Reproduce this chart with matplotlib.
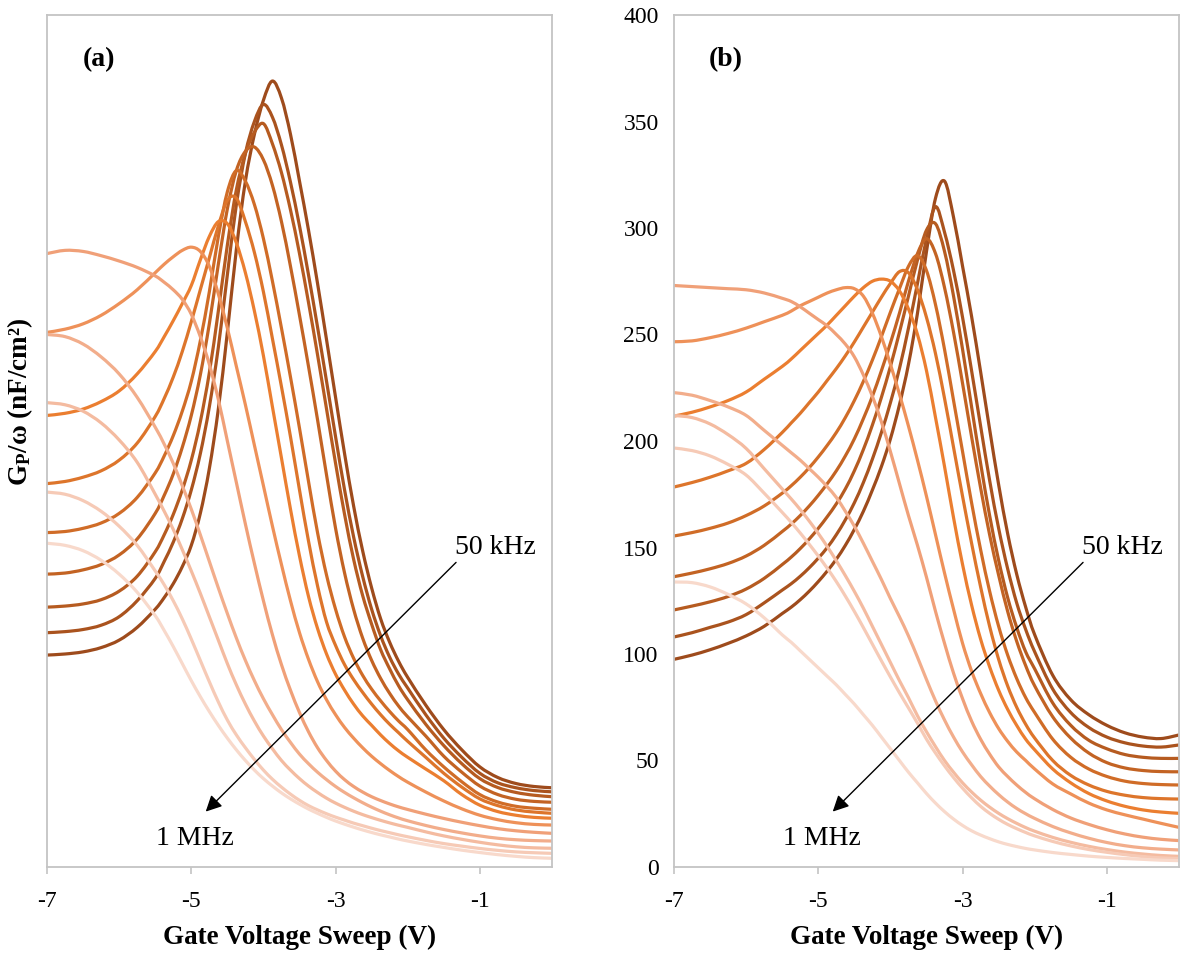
import matplotlib
matplotlib.use('Agg')
import matplotlib.pyplot as plt
from matplotlib.path import Path
from matplotlib.patches import PathPatch

# gate voltage grid (V), shared by every curve
vg = [-7, -6.75, -6.5, -6.25, -6, -5.75, -5.5, -5.375, -5.25, -5.125, -5, -4.875, -4.75,
      -4.625, -4.5, -4.375, -4.25, -4.125, -4, -3.875, -3.75, -3.625, -3.5, -3.375, -3.25,
      -3.125, -3, -2.875, -2.75, -2.625, -2.5, -2.375, -2.25, -2.125, -2, -1.75, -1.5,
      -1.25, -1, -0.75, -0.5, -0.25, 0]

# panel (a): Gp/w curves, 50 kHz (a1) ... 1 MHz (a13)
a1 = [99.5, 100, 101, 103, 106.5, 112.5, 121, 126.5, 133, 141, 151, 166, 187, 215, 251, 290, 322, 344, 360, 369, 361, 344, 322, 299, 274, 247.5, 220.5, 194, 169.5, 148.5, 131, 116.5, 105.5, 96.5, 89, 76, 64.5, 55, 47, 42, 39.2, 37.8, 37.2]
a2 = [110, 110.5, 111.5, 113.5, 117.5, 125, 135.5, 143.5, 152.5, 163.5, 177, 194, 216, 244, 278, 311, 335, 350, 358, 352, 339, 321.5, 301, 278, 253.5, 228, 202, 177, 155, 136.5, 121, 108.5, 98.5, 90.5, 84, 71.5, 60.5, 51.5, 44, 39.5, 37.2, 35.9, 35.3]
a3 = [122, 122.5, 123.5, 125.5, 129.5, 136.5, 148, 156, 165.5, 177, 191, 209, 232, 261, 292, 318, 335, 345, 349, 339.5, 326, 308.5, 288, 265, 240.5, 215, 189.5, 165.5, 144.5, 127.5, 114, 102, 93, 85, 78.5, 67, 57, 48.5, 41.5, 37.3, 35, 33.7, 33]
a4 = [137.5, 138, 139.5, 142, 146.5, 154, 166, 174.5, 184.5, 197, 212, 231, 255, 283, 309, 327, 336, 338, 332, 320, 303, 282, 259, 235, 210, 184, 159, 138, 121, 107.5, 97, 88.5, 81.5, 75.5, 70.5, 61.5, 52, 44.5, 38, 34, 31.8, 30.8, 30.4]
a5 = [157, 157.5, 159, 161.5, 166, 173.5, 185, 193, 202.5, 214, 228, 247, 270, 296, 317, 327, 322, 311, 295, 275, 253, 230, 206, 181, 157, 137, 121, 108, 98, 90, 83.5, 78, 73, 68.5, 64.5, 55, 47, 40, 34, 30.5, 28.5, 27.6, 27.1]
a6 = [180, 181, 183, 186, 191, 199, 211.5, 220, 230, 242, 256, 271, 286, 301, 313, 314, 303, 288.5, 270, 248, 225.5, 202, 177, 153, 132, 115, 104, 95, 88, 82, 76.5, 71.5, 67, 63, 59, 51.5, 44, 37.5, 32, 28.8, 26.8, 25.8, 25.2]
a7 = [212, 213, 215, 218.5, 223.5, 231.5, 242, 249, 256.5, 264.5, 273, 285, 296, 303, 302, 293, 279, 261, 240, 216, 192, 168, 146, 127, 112, 100, 90.5, 83, 76.5, 71, 66.5, 62, 58, 54.5, 51.5, 46, 40.5, 34, 29, 26, 24.3, 23.3, 22.9]
a8 = [251, 252.5, 255, 259, 264.5, 271, 279, 283, 286.5, 289.5, 291, 289, 282, 269, 253, 235, 217, 198, 179, 160, 142, 125, 110, 97.5, 87, 78.5, 71.5, 65.5, 60.5, 56, 52, 48.5, 45.3, 42.4, 39.8, 35.2, 31, 27.3, 24.3, 22.2, 20.8, 20, 19.7]
a9 = [288, 289.5, 289, 287, 284.5, 281.5, 277.5, 274.5, 271, 266.5, 259.5, 249, 236, 219.5, 200, 180.5, 161, 142.5, 125, 109, 95, 83, 72.5, 63.5, 56, 50, 45, 41, 37.8, 35.2, 33, 31.2, 29.6, 28.2, 27, 24.8, 22.8, 21, 19.4, 18, 17, 16.3, 15.8]
a10 = [250, 249, 245.5, 239.5, 231.5, 220.5, 206.5, 198.5, 189.5, 179, 168, 156, 143.5, 131, 119, 107.5, 97, 87.5, 79, 71.5, 64.5, 58.5, 53, 48.5, 44.5, 41, 37.8, 35, 32.5, 30.2, 28.1, 26.2, 24.5, 23, 21.7, 19.5, 17.6, 16, 14.6, 13.5, 12.8, 12.4, 12.2]
a11 = [218, 217, 214, 208.5, 200.5, 190, 175, 167, 158.5, 149, 139, 128.5, 117.5, 106.5, 95.5, 85.5, 76.5, 68.5, 61.5, 55.5, 50, 45.5, 41.5, 38, 35, 32.3, 30, 28, 26.2, 24.6, 23.2, 21.9, 20.7, 19.6, 18.6, 16.5, 14.6, 13, 11.6, 10.4, 9.5, 9, 8.8]
a12 = [176, 175, 172, 167, 160, 151, 139, 132.5, 125, 116.5, 107, 97, 87, 77.5, 69, 62, 56, 50.5, 45.5, 41.2, 37.5, 34.2, 31.3, 28.8, 26.8, 25, 23.4, 22, 20.6, 19.4, 18.2, 17.1, 16.1, 15.1, 14.2, 12.5, 11, 9.8, 8.7, 7.8, 7.1, 6.7, 6.4]
a13 = [152, 151, 148.5, 144, 137.5, 129, 118, 111, 103.5, 95.5, 87.5, 80, 73, 66.5, 60.5, 55, 50, 45.5, 41.5, 38, 34.8, 32, 29.5, 27.2, 25.2, 23.3, 21.6, 20.1, 18.7, 17.4, 16.2, 15.1, 14.1, 13.1, 12.2, 10.6, 9.2, 7.9, 6.8, 5.8, 5, 4.4, 4.1]

# panel (b)
b1 = [97.5, 99.5, 102, 105, 108.5, 113, 119, 122, 125.5, 129.5, 134, 139, 144.5, 151, 158.5, 167, 177, 188, 201, 217, 236, 260, 289, 314, 322, 305, 282, 258.5, 232.5, 205.5, 179.5, 156.5, 137.5, 122, 109, 90, 78.5, 71.5, 66.5, 63, 61, 60.3, 62]
b2 = [108, 110, 112.5, 115, 118.5, 124, 130, 133, 136.5, 140.5, 145, 150, 156, 163, 171, 180.5, 191.5, 204, 218, 234, 253, 274, 295, 310, 298, 280, 258, 233, 207, 181.5, 159, 140, 124, 111.5, 101, 83.5, 72.5, 65.5, 61, 58.3, 56.8, 56.3, 57.3]
b3 = [120.7, 122.5, 124.5, 127, 130.5, 135.5, 142, 145.5, 149.5, 154, 159, 164.5, 170.5, 177.5, 186, 196, 207.5, 220.5, 235, 251, 268, 285, 299, 302, 289, 268, 243, 216, 189.5, 165, 144, 126.5, 112.5, 101, 93, 77, 66.5, 59.5, 55.5, 52.8, 51.5, 51, 51]
b4 = [136.3, 138, 140, 142.5, 146, 151, 157.5, 161, 165, 169.5, 174.5, 180, 186, 193, 201, 210.5, 221, 233, 246, 260, 275, 288, 295, 288, 272, 251, 227, 202, 178, 156, 137, 120, 106, 94.5, 85, 70.5, 60.5, 53.5, 49, 46.5, 45.3, 44.8, 44.7]
b5 = [155.4, 157, 159, 161.5, 165, 169.5, 175.5, 179, 183, 187.5, 192.5, 198, 204, 211, 219, 228, 238, 249, 260.5, 271.5, 282, 287, 280, 264, 243, 219, 195, 171, 149, 129.5, 113, 99.5, 88.5, 79.5, 72.5, 60, 51.5, 46, 42.5, 40.3, 39.2, 38.7, 38.5]
b6 = [178.4, 180.5, 183, 186, 189.5, 196, 204, 208.5, 213, 218, 223, 228.5, 234, 240, 246.5, 253.5, 260.5, 267.5, 274, 279.5, 279, 271, 258, 241, 220, 197, 174, 152, 131.5, 113, 97.5, 85, 75, 67, 60.5, 50, 43, 38.5, 35.5, 33.7, 32.6, 32.1, 31.9]
b7 = [211.7, 213.5, 216, 219, 223, 229, 235, 238.5, 242.5, 246.5, 250.5, 254.5, 259, 263.5, 268, 272, 275, 276, 275, 270.5, 262, 250, 233, 211, 188, 164, 142, 123, 107, 94, 83, 74, 66.5, 60, 55, 46, 39.5, 34.5, 31, 28.5, 26.8, 25.8, 25.2]
b8 = [246.6, 247, 248.5, 250.5, 253, 256, 259, 261, 263.5, 265.5, 267.5, 269.5, 271, 272, 271.5, 268, 260, 249, 236, 222, 207, 191, 174, 156, 138, 121, 105, 92, 81.5, 72.5, 65, 59, 54, 50, 46, 39, 34.3, 30, 26.8, 24.5, 22.5, 20.5, 18.6]
b9 = [273, 272.5, 272, 271.5, 271, 269.5, 267, 265.5, 263, 260, 257, 254, 250, 245.5, 239.5, 231, 221, 209, 195, 180, 165, 151, 136, 120, 105, 91, 79, 68.5, 60, 53, 47, 42.5, 38.5, 35, 32, 27, 23, 20, 17.5, 15.5, 14, 13, 12.4]
b10 = [222.7, 221.5, 219, 216, 212, 205, 198, 194.5, 191, 187, 183, 178.5, 173.5, 167, 160, 152, 143.5, 135, 126, 117.5, 108.5, 98.5, 88, 78, 69, 61, 54, 48, 42.5, 38, 34, 30.5, 27.5, 25, 22.8, 19, 16, 13.5, 11.5, 10, 9, 8.4, 8]
b11 = [212, 211, 208, 203, 196.5, 187, 177.5, 172.8, 167.8, 162.4, 156.6, 150.4, 143.8, 136.8, 129.4, 121.5, 113, 104.5, 96, 87.5, 79.5, 71, 63.5, 56.5, 50, 44.5, 39.5, 35.2, 31.4, 28.1, 25.2, 22.7, 20.5, 18.5, 16.8, 13.9, 11.6, 9.7, 8.2, 7, 6.1, 5.4, 5]
b12 = [196.7, 195.5, 193, 189, 184, 175.5, 166.5, 161.8, 156.8, 151.5, 146, 140.2, 134, 127.2, 120, 112.4, 104.6, 96.8, 89.2, 81.8, 74.7, 67.5, 60, 53.5, 47.5, 42, 37, 32.5, 28.5, 25.2, 22.4, 20, 18, 16.2, 14.6, 12, 9.9, 8.2, 6.9, 5.8, 4.9, 4.3, 4]
b13 = [133.8, 133.5, 131.5, 128, 123.5, 117, 109, 105.5, 101.5, 97.5, 93.5, 89.5, 85.5, 81, 76.5, 71.5, 66.5, 61, 55.5, 50, 44.5, 39.5, 34.5, 30, 26, 22.5, 19.5, 17, 15, 13.3, 11.8, 10.6, 9.6, 8.7, 8, 6.8, 5.9, 5.1, 4.5, 4, 3.6, 3.2, 3]

colors = ['#9E4B1C', '#AA531E', '#B65B20', '#C36323', '#D06C27', '#DD752B', '#EB7E30',
          '#EE9159', '#F0A078', '#F2AD8B', '#F4BBA0', '#F6CAB6', '#F8D9CB']

x_ticks = [-7, -5, -3, -1]
y_ticks = [0, 50, 100, 150, 200, 250, 300, 350, 400]


def smoothed(xs, ys):
    # Excel-style "smoothed line": cubic Bezier pieces through every data point
    verts = [(xs[0], ys[0])]
    codes = [Path.MOVETO]
    n = len(xs)
    for i in range(n - 1):
        i0, i3 = max(i - 1, 0), min(i + 2, n - 1)
        verts.append((xs[i] + (xs[i + 1] - xs[i0]) / 6, ys[i] + (ys[i + 1] - ys[i0]) / 6))
        verts.append((xs[i + 1] - (xs[i3] - xs[i]) / 6, ys[i + 1] - (ys[i3] - ys[i]) / 6))
        verts.append((xs[i + 1], ys[i + 1]))
        codes += [Path.CURVE4] * 3
    return Path(verts, codes)


plt.rcParams['font.family'] = ['Liberation Serif', 'DejaVu Serif']
plt.rcParams['mathtext.fontset'] = 'custom'
plt.rcParams['mathtext.rm'] = 'Liberation Serif:bold'
plt.rcParams['mathtext.bf'] = 'Liberation Serif:bold'
plt.rcParams['mathtext.it'] = 'Liberation Serif:bold'
plt.rcParams['axes.unicode_minus'] = False

W, H = 1182, 960
fig = plt.figure(figsize=(W / 100, H / 100), dpi=100)
ax_a = fig.add_axes([47 / W, 93 / H, 505 / W, 852 / H])
ax_b = fig.add_axes([674 / W, 93 / H, 505 / W, 852 / H])

panels = [
    (ax_a, [a1, a2, a3, a4, a5, a6, a7, a8, a9, a10, a11, a12, a13], '(a)'),
    (ax_b, [b1, b2, b3, b4, b5, b6, b7, b8, b9, b10, b11, b12, b13], '(b)'),
]

for ax, curves, tag in panels:
    for ys, col in zip(curves, colors):
        ax.add_patch(PathPatch(smoothed(vg, ys), facecolor='none', edgecolor=col, lw=2.3,
                               capstyle='round', joinstyle='round'))
    ax.set_xlim(-7, 0)
    ax.set_ylim(0, 400)
    ax.set_xticks(x_ticks)
    ax.set_yticks(y_ticks)
    for s in ax.spines.values():
        s.set_color('#C4C4C4')
        s.set_linewidth(1.3)
    ax.tick_params(axis='x', length=5, width=1.2, color='#C4C4C4', labelsize=17, pad=12)
    ax.tick_params(axis='y', length=0, labelsize=17, pad=11)
    ax.text(0.102, 0.948, tag, transform=ax.transAxes, fontsize=20, fontweight='bold',
            ha='center', va='center')
    ax.annotate('', xy=(-4.8, 26), xytext=(-1.33, 143),
                arrowprops=dict(arrowstyle='-|>', color='black', lw=1.0,
                                mutation_scale=24, shrinkA=0, shrinkB=0))
    ax.text(-0.79, 150, '50 kHz', fontsize=20, ha='center', va='center')
    ax.text(-4.95, 13.6, '1 MHz', fontsize=20, ha='center', va='center')

ax_a.tick_params(axis='y', labelleft=False)

fig.text(299.5 / W, 1 - 937 / H, 'Gate Voltage Sweep (V)', fontsize=19.5,
         fontweight='bold', ha='center', va='center')
fig.text(926.5 / W, 1 - 937 / H, 'Gate Voltage Sweep (V)', fontsize=19.5,
         fontweight='bold', ha='center', va='center')
fig.text(20 / W, 1 - 402 / H, r'$\mathbf{G_P}$/ω (nF/cm²)', fontsize=19.5,
         fontweight='bold', rotation=90, ha='center', va='center')

fig.savefig('out.png', dpi=100, facecolor='white')
